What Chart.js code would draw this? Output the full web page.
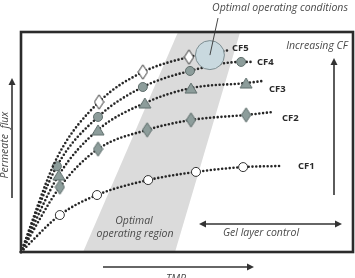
<!DOCTYPE html>
<html>
<head>
<meta charset="utf-8">
<script src="https://cdn.jsdelivr.net/npm/chart.js@4"></script>
<style>
  body { margin: 0; background: #fff; }
  canvas { display: block; }
</style>
</head>
<body>
<canvas id="myChart" width="355" height="278"></canvas>
<script>
// TMP (x) and permeate flux (y) in arbitrary units, 0..100
const cf1Tmp  = [0, 11.7, 22.9, 38.3, 52.7, 66.9, 78.0];
const cf1Flux = [0, 16.8, 25.9, 32.7, 36.4, 38.6, 39.1];
const cf2Tmp  = [0, 11.7, 23.2, 38.0, 51.2, 67.8, 75.6];
const cf2Flux = [0, 29.5, 46.8, 55.5, 60.0, 62.3, 63.6];
const cf3Tmp  = [0, 11.4, 23.2, 37.3, 51.2, 67.8, 72.6];
const cf3Flux = [0, 35.0, 55.5, 67.7, 74.5, 76.8, 77.7];
const cf4Tmp  = [0, 10.8, 23.2, 36.7, 50.9, 66.3, 70.2];
const cf4Flux = [0, 39.0, 61.4, 75.0, 82.3, 86.4, 86.4];
const cf5Tmp  = [0, 10.8, 23.5, 36.7, 50.6, 63.0];
const cf5Flux = [0, 42.7, 68.2, 81.8, 88.6, 91.8];
// which points carry a marker
const cf1Marked = [0, 1, 1, 1, 1, 1, 0];
const cf2Marked = [0, 1, 1, 1, 1, 1, 0];
const cf3Marked = [0, 1, 1, 1, 1, 1, 0];
const cf4Marked = [0, 1, 1, 1, 1, 1, 0];
const cf5Marked = [0, 0, 1, 1, 1, 0];
// optimal operating point
const optTmp  = [56.9];
const optFlux = [89.5];
// optimal operating region (parallelogram)
const bandTmp  = [18.7, 46.4, 66.0, 47.3];
const bandFlux = [0, 0, 100, 100];

const lineColor = '#262626';
const grayFill = '#8d9d9b';
const grayStroke = '#5f6e6c';

function diamond(fill, stroke) {
  const c = document.createElement('canvas');
  c.width = 11; c.height = 16;
  const g = c.getContext('2d');
  g.beginPath();
  g.moveTo(5.5, 0.8); g.lineTo(10.2, 8); g.lineTo(5.5, 15.2); g.lineTo(0.8, 8);
  g.closePath();
  g.fillStyle = fill; g.fill();
  g.strokeStyle = stroke; g.lineWidth = 1; g.stroke();
  return c;
}
function triangle(fill, stroke) {
  const c = document.createElement('canvas');
  c.width = 14; c.height = 12;
  const g = c.getContext('2d');
  g.beginPath();
  g.moveTo(7, 1); g.lineTo(13, 11); g.lineTo(1, 11);
  g.closePath();
  g.fillStyle = fill; g.fill();
  g.strokeStyle = stroke; g.lineWidth = 1; g.stroke();
  return c;
}

const toPts = (xs, ys) => xs.map((v, i) => ({x: v, y: ys[i]}));

function curve(label, xs, ys, marked, style, fill, stroke) {
  return {
    label: label,
    data: toPts(xs, ys),
    showLine: true,
    borderColor: lineColor,
    borderWidth: 2.6,
    borderDash: [0, 3.8],
    borderCapStyle: 'round',
    cubicInterpolationMode: 'monotone',
    pointStyle: style,
    pointRadius: marked.map(m => m ? 4.5 : 0),
    pointBackgroundColor: fill,
    pointBorderColor: stroke,
    pointBorderWidth: 1,
    clip: false
  };
}

const data = {
  datasets: [
    {
      label: 'Optimal operating conditions',
      data: toPts(optTmp, optFlux),
      pointRadius: 14.5,
      pointBackgroundColor: '#c9d9df',
      pointBorderColor: '#7e8e92',
      pointBorderWidth: 1,
      clip: false
    },
    curve('CF5', cf5Tmp, cf5Flux, cf5Marked, diamond('#ffffff', '#333'), '#fff', '#333'),
    curve('CF4', cf4Tmp, cf4Flux, cf4Marked, 'circle', grayFill, grayStroke),
    curve('CF3', cf3Tmp, cf3Flux, cf3Marked, triangle(grayFill, grayStroke), grayFill, grayStroke),
    curve('CF2', cf2Tmp, cf2Flux, cf2Marked, diamond(grayFill, grayStroke), grayFill, grayStroke),
    curve('CF1', cf1Tmp, cf1Flux, cf1Marked, 'circle', '#ffffff', '#333')
  ]
};

function arrowHead(ctx, x, y, dir) {
  // dir: 'up', 'right', 'left'
  ctx.beginPath();
  if (dir === 'up') { ctx.moveTo(x, y); ctx.lineTo(x - 3.5, y + 7); ctx.lineTo(x + 3.5, y + 7); }
  if (dir === 'right') { ctx.moveTo(x, y); ctx.lineTo(x - 7, y - 3.5); ctx.lineTo(x - 7, y + 3.5); }
  if (dir === 'left') { ctx.moveTo(x, y); ctx.lineTo(x + 7, y - 3.5); ctx.lineTo(x + 7, y + 3.5); }
  ctx.closePath();
  ctx.fill();
}

const deco = {
  id: 'deco',
  beforeDatasetsDraw(chart) {
    const {ctx, scales: {x, y}} = chart;
    ctx.save();
    ctx.beginPath();
    bandTmp.forEach((v, i) => {
      const px = x.getPixelForValue(v), py = y.getPixelForValue(bandFlux[i]);
      if (i) ctx.lineTo(px, py); else ctx.moveTo(px, py);
    });
    ctx.closePath();
    ctx.fillStyle = '#dbdbdb';
    ctx.fill();
    ctx.fillStyle = '#4a4a4a';
    ctx.font = 'italic 10.5px "Open Sans"';
    ctx.textAlign = 'center';
    ctx.textBaseline = 'middle';
    ctx.fillText('Optimal', 134, 221);
    ctx.fillText('operating region', 135, 234);
    ctx.restore();
  },
  afterDatasetsDraw(chart) {
    const {ctx, chartArea: a, scales: {x, y}} = chart;
    ctx.save();
    // frame
    ctx.strokeStyle = '#2b2b2b';
    ctx.lineWidth = 2.6;
    ctx.strokeRect(a.left, a.top, a.right - a.left, a.bottom - a.top);

    // pointer to optimum
    const ox = x.getPixelForValue(optTmp[0]), oy = y.getPixelForValue(optFlux[0]);
    ctx.strokeStyle = '#333';
    ctx.lineWidth = 0.9;
    ctx.beginPath();
    ctx.moveTo(218, 18);
    ctx.lineTo(ox, oy);
    ctx.stroke();

    ctx.fillStyle = '#4a4a4a';
    ctx.font = 'italic 10.5px "Open Sans"';
    ctx.textBaseline = 'middle';
    ctx.textAlign = 'center';
    ctx.fillText('Optimal operating conditions', 280, 8);
    ctx.fillText('Increasing CF', 317, 46);
    ctx.fillText('Gel layer control', 261, 233);

    // curve labels
    ctx.fillStyle = '#2b2b2b';
    ctx.font = 'bold 9.5px "Open Sans"';
    ctx.textAlign = 'left';
    ctx.fillText('CF5', 232, 48);
    ctx.fillText('CF4', 257, 62);
    ctx.fillText('CF3', 269, 89);
    ctx.fillText('CF2', 282, 118);
    ctx.fillText('CF1', 298, 166);

    // arrows
    ctx.strokeStyle = '#333';
    ctx.fillStyle = '#333';
    ctx.lineWidth = 1.6;
    ctx.beginPath(); ctx.moveTo(334, 195); ctx.lineTo(334, 64); ctx.stroke();
    arrowHead(ctx, 334, 58, 'up');
    ctx.beginPath(); ctx.moveTo(205, 224); ctx.lineTo(336, 224); ctx.stroke();
    arrowHead(ctx, 199, 224, 'left');
    arrowHead(ctx, 342, 224, 'right');
    // axis arrows
    ctx.beginPath(); ctx.moveTo(12, 198); ctx.lineTo(12, 84); ctx.stroke();
    arrowHead(ctx, 12, 78, 'up');
    ctx.beginPath(); ctx.moveTo(103, 267); ctx.lineTo(247, 267); ctx.stroke();
    arrowHead(ctx, 254, 267, 'right');

    ctx.fillStyle = '#4a4a4a';
    ctx.font = 'italic 10.5px "Open Sans"';
    ctx.textAlign = 'center';
    ctx.fillText('TMP', 176, 279);
    ctx.save();
    ctx.translate(5, 145);
    ctx.rotate(-Math.PI / 2);
    ctx.fillText('Permeate  flux', 0, 0);
    ctx.restore();
    ctx.restore();
  }
};

const options = {
  responsive: false,
  devicePixelRatio: 1,
  animation: false,
  layout: { autoPadding: false, padding: { left: 21, top: 32, right: 2, bottom: 26 } },
  plugins: { legend: { display: false }, tooltip: { enabled: false } },
  scales: {
    x: { type: 'linear', min: 0, max: 100, display: false },
    y: { type: 'linear', min: 0, max: 100, display: false }
  }
};

const ctx = document.getElementById('myChart').getContext('2d');
const myChart = new Chart(ctx, {
  type: 'scatter',
  data: data,
  options: options,
  plugins: [deco]
});
</script>
</body>
</html>
